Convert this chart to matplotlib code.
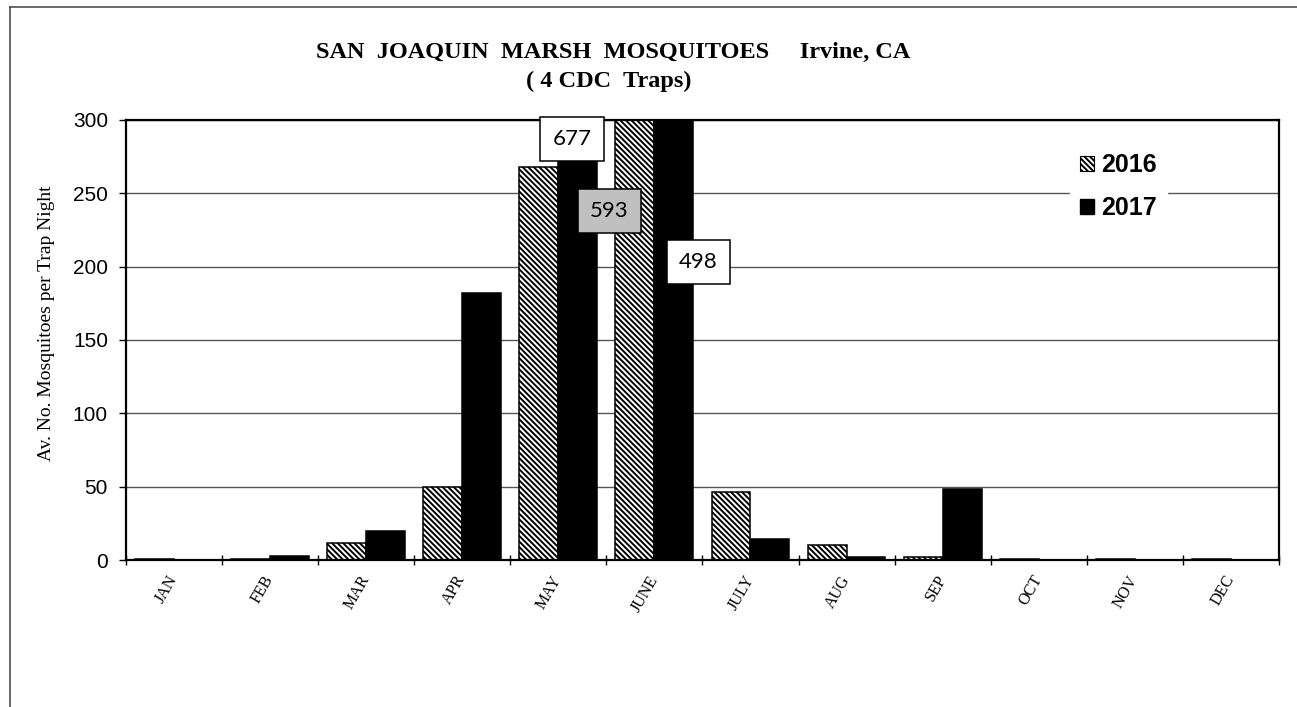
import numpy as np
import matplotlib
matplotlib.use("Agg")
import matplotlib.pyplot as plt
from matplotlib.patches import Patch
from matplotlib.lines import Line2D

# valores
meses = ["JAN", "FEB", "MAR", "APR", "MAY", "JUNE", "JULY", "AUG", "SEP", "OCT", "NOV", "DEC"]
anos = ["2016", "2017"]
media_2016 = [0.7, 1.0, 11.4, 50.0, 268.0, 593.0, 46.6, 10.2, 1.8, 0.4, 1.0, 0.5]
media_2017 = [0.0, 2.5, 19.5, 182.0, 677.0, 498.0, 14.1, 2.0, 48.2, 0.2, 0.0, 0.0]
yticks = [0, 50, 100, 150, 200, 250, 300]

# valores que passam do topo do eixo (mes, serie, posicao da caixa, cor)
rotulos = [(4, 1, (4.14, 287), "white"), (5, 0, (4.53, 238), "#c0c0c0"), (5, 1, (5.46, 203), "white")]

plt.rcParams["hatch.linewidth"] = 1.4

fig = plt.figure(figsize=(12.97, 7.07), dpi=100)
ax = fig.add_axes([0.0971, 0.2079, 0.889, 0.6224])

x = np.arange(len(meses))
largura = 0.405

ax.bar(x - largura/2, media_2016, largura, facecolor="white", edgecolor="black",
       hatch="\\\\\\\\\\\\", linewidth=1.1, zorder=2)
ax.bar(x + largura/2, media_2017, largura, facecolor="black", edgecolor="black",
       linewidth=1.1, zorder=2)

ax.set_xlim(-0.5, len(meses) - 0.5)
ax.set_ylim(0, 300)
ax.set_yticks(yticks)
ax.yaxis.grid(True, color="#555555", linewidth=1.0, zorder=0)
ax.set_axisbelow(True)
ax.tick_params(axis="y", direction="out", length=5, width=1, pad=8, labelsize=15)
for lab in ax.get_yticklabels():
    lab.set_fontfamily("Liberation Sans")

ax.set_xticks(x)
ax.set_xticklabels(meses, rotation=60, ha="right", va="center", rotation_mode="anchor",
                   family="Liberation Serif", fontsize=11.5)
ax.tick_params(axis="x", which="major", length=0, pad=12)
ax.set_xticks(np.arange(-0.5, len(meses) + 0.5, 1), minor=True)
ax.tick_params(axis="x", which="minor", direction="inout", length=7, width=1)

for s in ax.spines.values():
    s.set_linewidth(1.6)
    s.set_color("black")

serie = [media_2016, media_2017]
for mes, k, (px, py), cor in rotulos:
    ax.text(px, py, f"{serie[k][mes]:.0f}", ha="center", va="center", fontsize=16,
            family="Lato", zorder=5,
            bbox=dict(boxstyle="square,pad=0.55", facecolor=cor, edgecolor="black", linewidth=1.1))

handles = [Patch(facecolor="white", edgecolor="black", hatch="\\\\\\\\\\\\", linewidth=0.8),
           Patch(facecolor="black", edgecolor="black")]
leg = ax.legend(handles, anos, loc="upper left", bbox_to_anchor=(0.808, 0.975),
                prop=dict(family="Liberation Sans", weight="bold", size=18),
                handlelength=0.56, handleheight=0.56, handletextpad=0.3,
                labelspacing=0.75, borderpad=0.4, frameon=True, fancybox=False)
leg.get_frame().set_edgecolor("white")
leg.get_frame().set_facecolor("white")
leg.get_frame().set_alpha(1)

fig.text(0.473, 0.926, "SAN  JOAQUIN  MARSH  MOSQUITOES     Irvine, CA", ha="center", va="center",
         family="Liberation Serif", weight="bold", fontsize=17.5)
fig.text(0.469, 0.885, "( 4 CDC  Traps)", ha="center", va="center",
         family="Liberation Serif", weight="bold", fontsize=17.5)

fig.text(0.036, 0.543, "Av. No. Mosquitoes per Trap Night", rotation=90, ha="center", va="center",
         family="Liberation Serif", fontsize=14)

# moldura externa
fig.add_artist(Line2D([10/1297, 1], [1 - 7/707, 1 - 7/707], color="#404040", linewidth=1.1))
fig.add_artist(Line2D([10/1297, 10/1297], [0, 1 - 7/707], color="#404040", linewidth=1.1))

plt.savefig("out.png", dpi=100)
